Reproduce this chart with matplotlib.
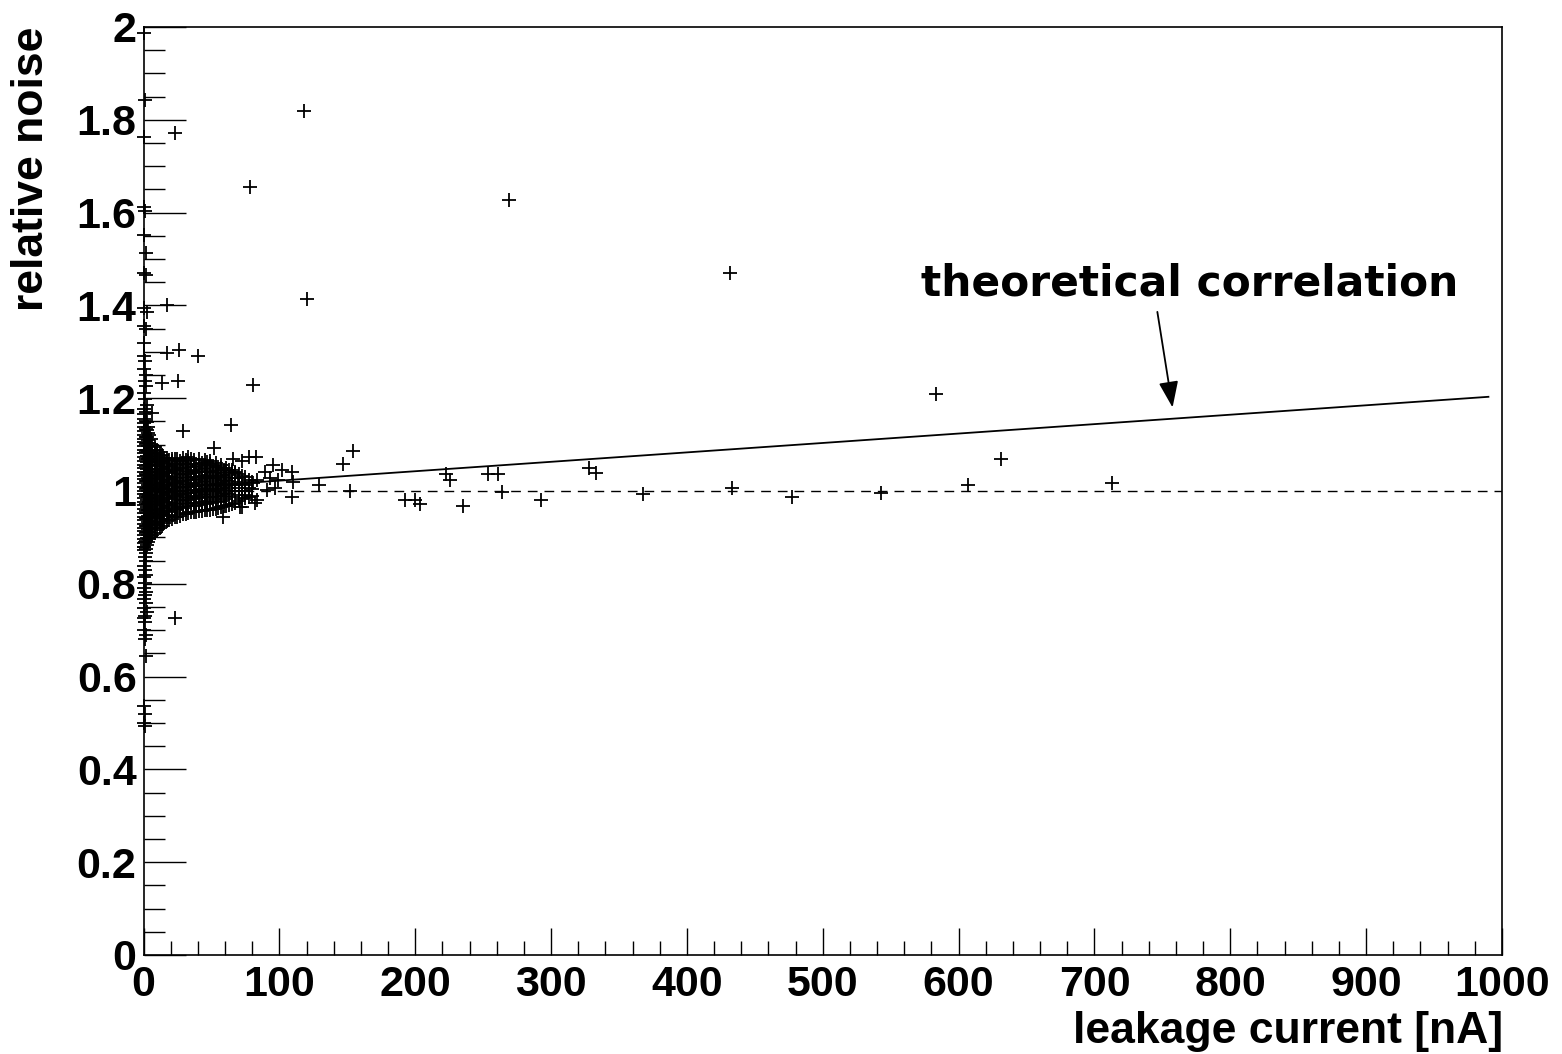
import matplotlib
matplotlib.use("Agg")
import matplotlib.pyplot as plt
from matplotlib.ticker import MultipleLocator

# ---------------- data ----------------
x_ticks = [0, 100, 200, 300, 400, 500, 600, 700, 800, 900, 1000]
x_tick_labels = ["0", "100", "200", "300", "400", "500", "600", "700", "800", "900", "1000"]
y_ticks = [0, 0.2, 0.4, 0.6, 0.8, 1.0, 1.2, 1.4, 1.6, 1.8, 2.0]
y_tick_labels = ["0", "0.2", "0.4", "0.6", "0.8", "1", "1.2", "1.4", "1.6", "1.8", "2"]

# points sitting on / next to the y axis (leakage current ~ 0)
axis_x = [0.5, 0.8, 0.4, 0.6, 1.2, 0.3, 1.5, 0.5, 1.8, 0.4, 2.4, 0.6, 1.6, 0.5, 0.7,
          1.4, 0.3, 1.9, 0.8, 2.2, 0.5, 1.3, 2.6, 6.0,
          1.2, 0.4, 2.0, 0.8, 1.5, 0.3, 1.0, 2.2, 0.6, 1.4, 0.5, 1.8, 0.9, 0.4, 1.6,
          0.7, 2.5, 1.1, 0.5, 1.3, 0.6, 2.0, 0.9, 1.7, 0.4, 0.8, 0.5, 1.2]
axis_y = [1.986, 1.843, 1.763, 1.613, 1.604, 1.552, 1.512, 1.469, 1.465, 1.395, 1.386,
          1.355, 1.349, 1.318, 1.290, 1.280, 1.262, 1.250, 1.238, 1.226, 1.212, 1.198,
          1.185, 1.168,
          0.891, 0.880, 0.867, 0.858, 0.850, 0.838, 0.830, 0.820, 0.814, 0.802, 0.790,
          0.783, 0.776, 0.767, 0.758, 0.747, 0.740, 0.731, 0.726, 0.718, 0.700, 0.690,
          0.680, 0.644, 0.537, 0.519, 0.501, 0.494]

# dense cluster, read column by column (x in nA, relative noise values)
cluster_col_x = [0.6, 2.4, 4.2, 6.5, 10, 13.5, 17, 21, 25, 29, 33, 37, 41, 45,
                 49, 53, 57, 61, 65, 70, 75, 80]
cluster_col_y = [
    [0.872, 0.880, 0.888, 0.897, 0.905, 0.913, 0.921, 0.929, 0.937, 0.945, 0.953,
     0.961, 0.969, 0.977, 0.985, 0.993, 1.001, 1.009, 1.017, 1.025, 1.033, 1.041,
     1.049, 1.057, 1.065, 1.073, 1.081, 1.089, 1.097, 1.105, 1.113, 1.121, 1.129,
     1.137, 1.146, 1.156, 1.166, 1.177],
    [0.884, 0.898, 0.911, 0.925, 0.939, 0.952, 0.966, 0.980, 0.994, 1.007, 1.021,
     1.035, 1.048, 1.062, 1.076, 1.089, 1.103, 1.117, 1.131, 1.148],
    [0.896, 0.912, 0.928, 0.944, 0.960, 0.976, 0.992, 1.008, 1.024, 1.040, 1.056,
     1.072, 1.088, 1.104, 1.120],
    [0.905, 0.920, 0.934, 0.948, 0.962, 0.976, 0.990, 1.004, 1.018, 1.032, 1.046,
     1.060, 1.074, 1.088, 1.100],
    [0.915, 0.929, 0.943, 0.957, 0.971, 0.985, 0.999, 1.013, 1.027, 1.041, 1.055,
     1.069, 1.080, 1.088],
    [0.925, 0.939, 0.953, 0.967, 0.981, 0.995, 1.009, 1.023, 1.037, 1.051, 1.065,
     1.078],
    [0.935, 0.949, 0.963, 0.977, 0.991, 1.005, 1.019, 1.033, 1.047, 1.060, 1.072],
    [0.940, 0.954, 0.968, 0.982, 0.996, 1.010, 1.024, 1.038, 1.052, 1.064, 1.070],
    [0.945, 0.959, 0.973, 0.987, 1.001, 1.015, 1.029, 1.043, 1.057, 1.070],
    [0.950, 0.964, 0.978, 0.992, 1.006, 1.020, 1.034, 1.048, 1.060, 1.072],
    [0.953, 0.967, 0.981, 0.995, 1.009, 1.023, 1.037, 1.051, 1.064, 1.074],
    [0.954, 0.968, 0.982, 0.996, 1.010, 1.024, 1.038, 1.052, 1.066],
    [0.956, 0.970, 0.984, 0.998, 1.012, 1.026, 1.040, 1.054, 1.068],
    [0.958, 0.972, 0.986, 1.000, 1.014, 1.028, 1.042, 1.056, 1.066],
    [0.960, 0.974, 0.988, 1.002, 1.016, 1.030, 1.044, 1.058, 1.065],
    [0.962, 0.976, 0.990, 1.004, 1.018, 1.032, 1.046, 1.060],
    [0.965, 0.979, 0.993, 1.007, 1.021, 1.035, 1.049, 1.055],
    [0.968, 0.982, 0.996, 1.010, 1.024, 1.038, 1.050],
    [0.972, 0.986, 1.000, 1.014, 1.028, 1.042, 1.045],
    [0.978, 0.992, 1.006, 1.020, 1.036],
    [0.985, 0.999, 1.013, 1.030],
    [0.990, 1.005, 1.020],
]

# second, staggered set of cluster columns read between the first ones
cluster2_col_x = [1.5, 3.3, 5.3, 8.2, 11.8, 15.2, 19, 23, 27, 31, 35, 39, 43, 47,
                  51, 55, 59, 63, 67.5, 72.5, 77.5]
cluster2_col_y = [
    [0.876, 0.892, 0.909, 0.925, 0.941, 0.957, 0.973, 0.989, 1.005, 1.021, 1.037,
     1.053, 1.069, 1.085, 1.101, 1.117, 1.133, 1.151, 1.171],
    [0.890, 0.905, 0.919, 0.933, 0.947, 0.959, 0.973, 0.987, 1.001, 1.014, 1.028,
     1.042, 1.055, 1.069, 1.083, 1.096, 1.110, 1.124, 1.139],
    [0.900, 0.920, 0.936, 0.952, 0.968, 0.984, 1.000, 1.016, 1.032, 1.048, 1.064,
     1.080, 1.096, 1.112],
    [0.910, 0.927, 0.941, 0.955, 0.969, 0.983, 0.997, 1.011, 1.025, 1.039, 1.053,
     1.067, 1.081, 1.094],
    [0.920, 0.936, 0.950, 0.964, 0.978, 0.992, 1.006, 1.020, 1.034, 1.048, 1.062,
     1.075, 1.084],
    [0.930, 0.946, 0.960, 0.974, 0.988, 1.002, 1.016, 1.030, 1.044, 1.058, 1.071],
    [0.938, 0.956, 0.970, 0.984, 0.998, 1.012, 1.026, 1.040, 1.054, 1.067],
    [0.943, 0.961, 0.975, 0.989, 1.003, 1.017, 1.031, 1.045, 1.059, 1.069],
    [0.947, 0.966, 0.980, 0.994, 1.008, 1.022, 1.036, 1.050, 1.064],
    [0.951, 0.971, 0.985, 0.999, 1.013, 1.027, 1.041, 1.055, 1.067],
    [0.954, 0.974, 0.988, 1.002, 1.016, 1.030, 1.044, 1.058, 1.070],
    [0.955, 0.975, 0.989, 1.003, 1.017, 1.031, 1.045, 1.059],
    [0.957, 0.977, 0.991, 1.005, 1.019, 1.033, 1.047, 1.061],
    [0.959, 0.979, 0.993, 1.007, 1.021, 1.035, 1.049, 1.062],
    [0.961, 0.983, 0.997, 1.011, 1.025, 1.039, 1.053],
    [0.964, 0.986, 1.000, 1.014, 1.028, 1.042, 1.052],
    [0.967, 0.989, 1.003, 1.017, 1.031, 1.045],
    [0.970, 0.993, 1.007, 1.021, 1.035, 1.046],
    [0.975, 0.999, 1.013, 1.027, 1.040],
    [0.982, 0.999, 1.016, 1.032],
    [0.988, 1.006, 1.024],
]

# individually readable points
scatter_x = [17.0, 26.2, 40.4, 13.6, 25.6, 80.4, 29.0, 64.2, 51.6, 66.0, 72.3, 78.0,
             82.5, 89.5, 95.6, 101.7, 109.0, 93.0, 99.2, 110.3, 90.7, 96.8, 109.1,
             83.4, 71.0, 58.8, 74.7, 83.4, 80.9, 69.8, 67.4, 82.0, 72.3,
             118.2, 23.2, 78.4, 269.1, 120.4, 432.0, 17.0, 583.6, 23.2,
             154.0, 147.1, 152.0, 129.5, 192.6, 199.9, 203.6, 222.5, 225.7, 235.5,
             253.9, 261.3, 263.8, 292.7, 328.3, 333.2, 367.8, 433.4, 477.5, 543.0,
             607.1, 631.5, 713.1]
scatter_y = [1.297, 1.304, 1.291, 1.232, 1.236, 1.228, 1.130, 1.142, 1.092, 1.070,
             1.064, 1.074, 1.073, 1.042, 1.056, 1.045, 1.042, 1.027, 1.024, 1.020,
             1.002, 1.006, 0.988, 0.981, 0.966, 0.945, 0.991, 1.024, 1.017, 1.027,
             1.038, 0.975, 0.966,
             1.819, 1.772, 1.655, 1.627, 1.414, 1.470, 1.401, 1.209, 0.726,
             1.087, 1.058, 1.000, 1.013, 0.981, 0.981, 0.972, 1.036, 1.024, 0.968,
             1.036, 1.036, 0.998, 0.981, 1.050, 1.038, 0.994, 1.006, 0.987, 0.996,
             1.013, 1.069, 1.017]

# reference lines
theory_x = [0, 990]
theory_y = [1.002, 1.203]
unity_x = [0, 1000]
unity_y = [1.0, 1.0]

# ---------------- plot ----------------
W, H = 1562, 1054
fig = plt.figure(figsize=(W / 100, H / 100), dpi=100)
ax = fig.add_axes([143.5 / W, 1 - 955 / H, (1502 - 143.5) / W, (955 - 27) / H])

px = list(axis_x)
py = list(axis_y)
for cols_x, cols_y in ((cluster_col_x, cluster_col_y), (cluster2_col_x, cluster2_col_y)):
    for cx, ys in zip(cols_x, cols_y):
        for yv in ys:
            px.append(cx)
            py.append(yv)
px += scatter_x
py += scatter_y

ax.plot(unity_x, unity_y, color="black", lw=1.0, ls=(0, (7, 5)), zorder=1)
ax.plot(theory_x, theory_y, color="black", lw=1.3, zorder=2)
ax.plot(px, py, ls="none", marker="+", ms=9.6, mew=1.3, color="black",
        clip_on=False, zorder=3)

ax.set_xlim(0, 1000)
ax.set_ylim(0, 2)

lab_font = dict(family="Liberation Sans", weight="bold", size=31)
ax.set_xticks(x_ticks)
ax.set_xticklabels(x_tick_labels, fontdict=lab_font)
ax.set_yticks(y_ticks)
ax.set_yticklabels(y_tick_labels, fontdict=lab_font)
ax.xaxis.set_minor_locator(MultipleLocator(20))
ax.yaxis.set_minor_locator(MultipleLocator(0.05))
ax.tick_params(axis="x", which="major", direction="in", length=19.5, width=1.0, pad=7)
ax.tick_params(axis="x", which="minor", direction="in", length=10, width=1.0)
ax.tick_params(axis="y", which="major", direction="in", length=30, width=1.0, pad=5)
ax.tick_params(axis="y", which="minor", direction="in", length=15, width=1.0)
for s in ax.spines.values():
    s.set_linewidth(1.2)

ax.annotate("", xy=(757.5, 1.18), xytext=(746.3, 1.386),
            arrowprops=dict(arrowstyle="-|>,head_length=1.6,head_width=0.6",
                            color="black", lw=1.3, shrinkA=0, shrinkB=0))
ax.text(572.5, 1.422, "theoretical correlation", family="DejaVu Sans",
        weight="bold", size=30.5, ha="left", va="baseline")

fig.text(1503 / W, 1 - 1043 / H, "leakage current [nA]", family="Liberation Sans",
         weight="bold", size=32, ha="right", va="baseline")
fig.text(32 / W, 1 - 27 / H, "relative noise", family="Liberation Sans",
         weight="bold", size=32, ha="center", va="top", rotation=90)

fig.savefig("out.png", dpi=100, facecolor="white")
